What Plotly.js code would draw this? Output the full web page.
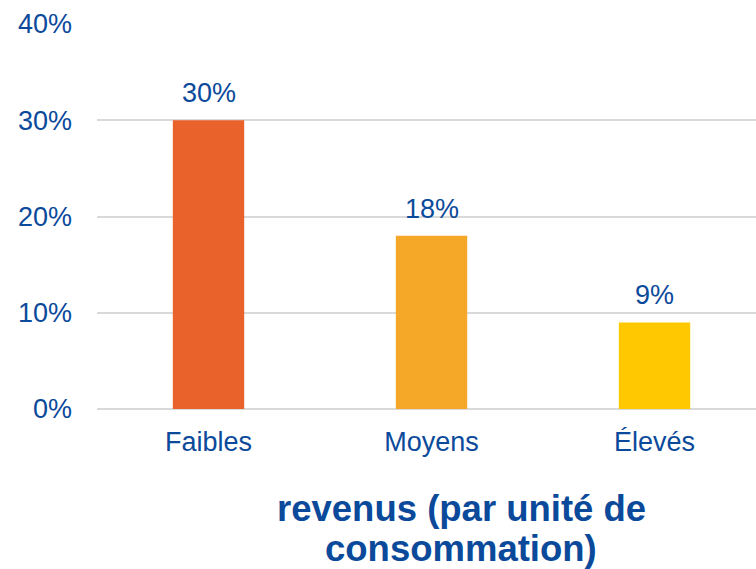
<!DOCTYPE html>
<html>
<head>
<meta charset="utf-8">
<script src="https://cdn.plot.ly/plotly-3.0.1.min.js"></script>
<style>
  html, body { margin: 0; padding: 0; background: #fff; }
  #chart { width: 756px; height: 569px; }
</style>
</head>
<body>
<div id="chart"></div>
<script>
const categories = ['Faibles', 'Moyens', 'Élevés'];
const shares = [0.30, 0.18, 0.09];
const barColors = ['#e9612b', '#f5a828', '#ffc800'];
const titleLines = ['revenus (par unité de', 'consommation)'];

const BLUE = '#0b4a9b';
const FONT = 'Liberation Sans, Arial, sans-serif';

const trace = {
    type: 'bar',
    x: [0, 1, 2],
    y: shares,
    width: 0.32,
    marker: { color: barColors },
    hoverinfo: 'skip'
};

// value labels above the bars
const valueLabels = shares.map((v, i) => ({
    text: Math.round(v * 100) + '%',
    xref: 'x',
    yref: 'y',
    x: i,
    y: v,
    yanchor: 'bottom',
    yshift: 10,
    showarrow: false,
    font: { family: FONT, size: 27, color: BLUE }
}));

const titleAnn = titleLines.map((line, i) => ({
    text: '<b>' + line + '</b>',
    xref: 'paper',
    yref: 'paper',
    x: (461 - 97) / 659,
    y: -(99 + i * 40) / 385,
    xanchor: 'center',
    yanchor: 'middle',
    showarrow: false,
    font: { family: FONT, size: 36.5, color: BLUE }
}));

const layout = {
    width: 756,
    height: 569,
    margin: { l: 97, r: 0, t: 24, b: 160 },
    paper_bgcolor: '#fff',
    plot_bgcolor: '#fff',
    showlegend: false,
    font: { family: FONT, color: BLUE },
    xaxis: {
        range: [-0.5, 2.455],
        tickvals: [0, 1, 2],
        ticktext: categories,
        tickfont: { size: 27, color: BLUE },
        showgrid: false,
        zeroline: false,
        showline: false,
        ticks: '',
        ticklabelstandoff: 14
    },
    yaxis: {
        range: [0, 0.4],
        dtick: 0.1,
        tickformat: '.0%',
        tickfont: { size: 27, color: BLUE },
        showgrid: true,
        gridcolor: '#d9d9d9',
        gridwidth: 2,
        zeroline: true,
        zerolinecolor: '#d9d9d9',
        zerolinewidth: 2,
        showline: false,
        ticks: '',
        ticklabelstandoff: 24
    },
    annotations: valueLabels.concat(titleAnn)
};

Plotly.newPlot('chart', [trace], layout, { displayModeBar: false, staticPlot: true });
</script>
</body>
</html>
